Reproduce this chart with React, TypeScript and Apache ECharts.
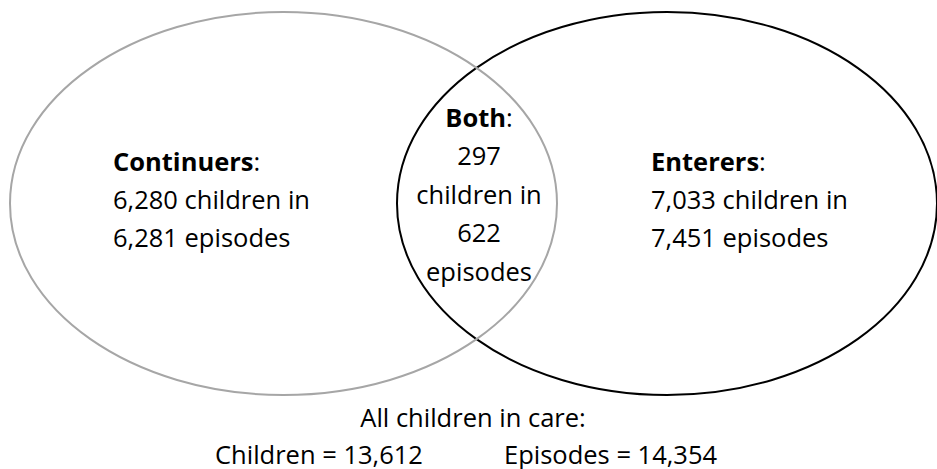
import React, { useEffect, useRef } from "react";
import * as echarts from "echarts";

// ---- data ----
const groupNames = ["Continuers", "Both", "Enterers"];
const childrenCounts = [6280, 297, 7033];
const episodeCounts = [6281, 622, 7451];
const totalChildren = 13612;
const totalEpisodes = 14354;
const totalTitle = "All children in care:";

const fmt = (v: number) => v.toLocaleString("en-US");

// ---- layout ----
const W = 937;
const H = 469;
const FONT = "'Open Sans', 'Noto Sans', sans-serif";
const FS = 25.5;

export default function App() {
  const ref = useRef<HTMLDivElement>(null);
  useEffect(() => {
    if (!ref.current) return;
    const chart = echarts.init(ref.current, null, { renderer: "svg" });

    const txt = (text: string, x: number, baseline: number, align: string, rich?: any) => ({
      type: "text",
      x,
      y: baseline - FS * 0.36,
      silent: true,
      style: {
        text,
        fontFamily: FONT,
        fontSize: FS,
        lineHeight: 24,
        fill: "#000",
        align,
        verticalAlign: "middle",
        rich,
      },
    });
    const boldRich = {
      b: { fontFamily: FONT, fontSize: FS, lineHeight: 24, fontWeight: "bold", fill: "#000" },
      n: { fontFamily: FONT, fontSize: FS, lineHeight: 24, fill: "#000" },
    };

    const elements: any[] = [
      {
        type: "ellipse",
        shape: { cx: 667, cy: 203.5, rx: 270, ry: 191.5 },
        style: { fill: "none", stroke: "#000000", lineWidth: 2 },
        silent: true,
      },
      {
        type: "ellipse",
        shape: { cx: 283.5, cy: 203.5, rx: 273.5, ry: 191.5 },
        style: { fill: "none", stroke: "#a6a6a6", lineWidth: 2 },
        silent: true,
      },
      // Continuers
      txt(`{b|${groupNames[0]}}{n|:}`, 113, 170, "left", boldRich),
      txt(`${fmt(childrenCounts[0])} children in`, 113, 208, "left"),
      txt(`${fmt(episodeCounts[0])} episodes`, 113, 246.5, "left"),
      // Both
      txt(`{b|${groupNames[1]}}{n|:}`, 479, 126, "center", boldRich),
      txt(`${fmt(childrenCounts[1])}`, 479, 164.5, "center"),
      txt(`children in`, 479, 203, "center"),
      txt(`${fmt(episodeCounts[1])}`, 479, 241.5, "center"),
      txt(`episodes`, 479, 280, "center"),
      // Enterers
      txt(`{b|${groupNames[2]}}{n|:}`, 651, 170, "left", boldRich),
      txt(`${fmt(childrenCounts[2])} children in`, 651, 208, "left"),
      txt(`${fmt(episodeCounts[2])} episodes`, 651, 246.5, "left"),
      // totals
      txt(totalTitle, 473, 426, "center"),
      txt(`Children = ${fmt(totalChildren)}`, 215, 463.5, "left"),
      txt(`Episodes = ${fmt(totalEpisodes)}`, 504, 463.5, "left"),
    ];

    chart.setOption({
      animation: false,
      backgroundColor: "#ffffff",
      graphic: { elements },
    });
    return () => chart.dispose();
  }, []);

  return (
    <div
      ref={ref}
      style={{ position: "absolute", left: 0, top: 0, width: W, height: H }}
    />
  );
}
